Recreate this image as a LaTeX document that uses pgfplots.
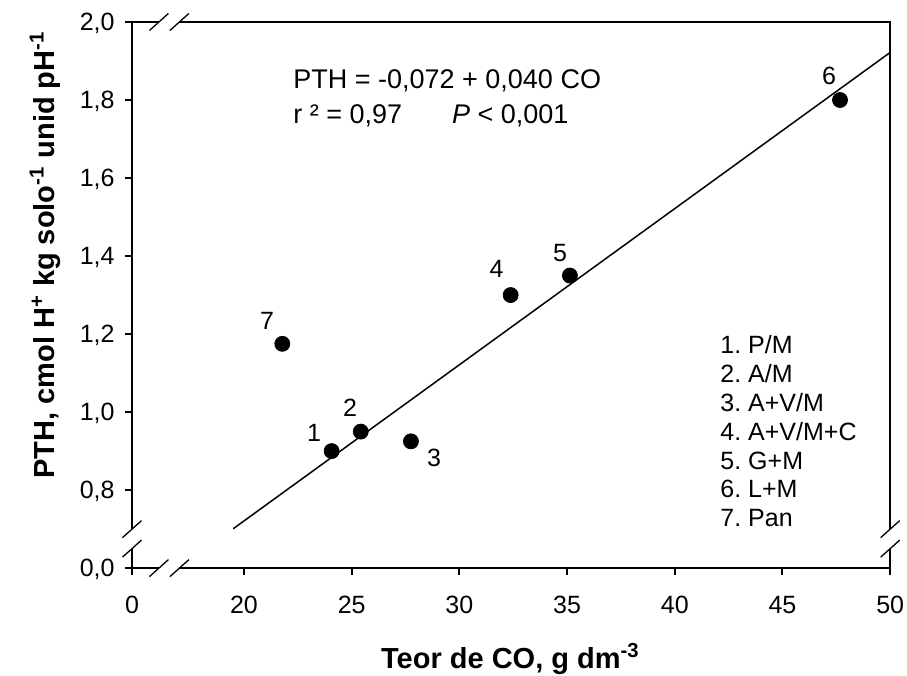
\documentclass[border=0pt]{standalone}
\usepackage{fontspec}
\setmainfont{Liberation Sans}
\usepackage{pgfplots}
\pgfplotsset{compat=1.18}
\newcommand{\fs}[1]{\fontsize{#1}{1.2\dimexpr#1pt\relax}\selectfont}
\frenchspacing
\begin{document}
\frenchspacing
\begin{tikzpicture}
\begin{axis}[
  scale only axis, width=379pt, height=273pt,
  xmin=14.8, xmax=50, ymin=0.6, ymax=2.0,
  xtick={14.8,20,25,30,35,40,45,50},
  xticklabels={0,20,25,30,35,40,45,50},
  ytick={0.6,0.8,1.0,1.2,1.4,1.6,1.8,2.0},
  yticklabels={{0,0},{0,8},{1,0},{1,2},{1,4},{1,6},{1,8},{2,0}},
  tick align=outside, tick pos=left,
  major tick length=3.5pt,
  every tick/.style={black, line width=1pt},
  axis line style={line width=1pt},
  minor tick num=0,
  clip=false,
  /pgf/number format/assume math mode=true,
  tick label style={font=\fs{12.5}},
  xticklabel style={inner sep=0pt, anchor=base, yshift=-19pt},
  yticklabel style={inner sep=0pt, anchor=east, xshift=-5pt, text depth=0pt},
]
\addplot[only marks, mark=*, mark size=3.75pt, black] coordinates {
  (24.07,0.900) (25.42,0.950) (27.75,0.925) (32.38,1.300)
  (35.13,1.350) (47.67,1.800) (21.78,1.175)};
\addplot[black, line width=0.75pt] coordinates {(19.5,0.701) (50,1.922)};

\node[font=\fs{12.5}] at (axis cs:23.25,0.947) {1};
\node[font=\fs{12.5}] at (axis cs:24.92,1.010) {2};
\node[font=\fs{12.5}] at (axis cs:28.82,0.882) {3};
\node[font=\fs{12.5}] at (axis cs:31.73,1.366) {4};
\node[font=\fs{12.5}] at (axis cs:34.67,1.408) {5};
\node[font=\fs{12.5}] at (axis cs:47.16,1.862) {6};
\node[font=\fs{12.5}] at (axis cs:21.07,1.233) {7};

\node[anchor=base west, inner sep=0pt, font=\fs{13.5}] at (axis cs:22.27,1.830) {PTH = -0,072 + 0,040 CO};
\node[anchor=base west, inner sep=0pt, font=\fs{13.5}] at (axis cs:22.27,1.740) {r ² = 0,97};
\node[anchor=base west, inner sep=0pt, font=\fs{13.5}] at (axis cs:29.64,1.740) {\textit{P} < 0,001};

\node[anchor=base west, inner sep=0pt, font=\fs{12.5}] at (axis cs:42.10,1.1505) {1.\ P/M};
\node[anchor=base west, inner sep=0pt, font=\fs{12.5}] at (axis cs:42.10,1.0764) {2.\ A/M};
\node[anchor=base west, inner sep=0pt, font=\fs{12.5}] at (axis cs:42.10,1.0023) {3.\ A+V/M};
\node[anchor=base west, inner sep=0pt, font=\fs{12.5}] at (axis cs:42.10,0.9282) {4.\ A+V/M+C};
\node[anchor=base west, inner sep=0pt, font=\fs{12.5}] at (axis cs:42.10,0.8541) {5.\ G+M};
\node[anchor=base west, inner sep=0pt, font=\fs{12.5}] at (axis cs:42.10,0.7800) {6.\ L+M};
\node[anchor=base west, inner sep=0pt, font=\fs{12.5}] at (axis cs:42.10,0.7059) {7.\ Pan};

\node[anchor=base, inner sep=0pt, font=\bfseries\fs{14.5}] at (axis cs:32.37,0.3436) {Teor de CO, g dm\textsuperscript{-3}};
\node[anchor=base, rotate=90, inner sep=0pt, font=\bfseries\fs{14.5}] at (axis cs:11.18,1.4026) {PTH, cmol H\textsuperscript{+} kg solo\textsuperscript{-1} unid pH\textsuperscript{-1}};

\coordinate (B1) at (axis cs:16.05,0.6); \coordinate (B2) at (axis cs:17.0,0.6);
\coordinate (T1) at (axis cs:16.05,2.0); \coordinate (T2) at (axis cs:17.0,2.0);
\coordinate (L1) at (axis cs:14.8,0.65); \coordinate (L2) at (axis cs:14.8,0.70);
\coordinate (R1) at (axis cs:50,0.65); \coordinate (R2) at (axis cs:50,0.70);
\coordinate (BB1) at (axis cs:8.672,0.3256); \coordinate (BB2) at (axis cs:50.78,2.0564);
\end{axis}
\fill[white] ([yshift=-1pt]B1) rectangle ([yshift=1pt]B2);
\fill[white] ([yshift=-1pt]T1) rectangle ([yshift=1pt]T2);
\fill[white] ([xshift=-1pt]L1) rectangle ([xshift=1pt]L2);
\fill[white] ([xshift=-1pt]R1) rectangle ([xshift=1pt]R2);
\foreach \c in {B1,B2,T1,T2,L1,L2,R1,R2}{
  \draw[line width=0.65pt] ([shift={(-4.75pt,-4.25pt)}]\c) -- ([shift={(4.75pt,4.25pt)}]\c);
}
\pgfresetboundingbox
\path[use as bounding box] (BB1) rectangle (BB2);
\end{tikzpicture}
\end{document}
